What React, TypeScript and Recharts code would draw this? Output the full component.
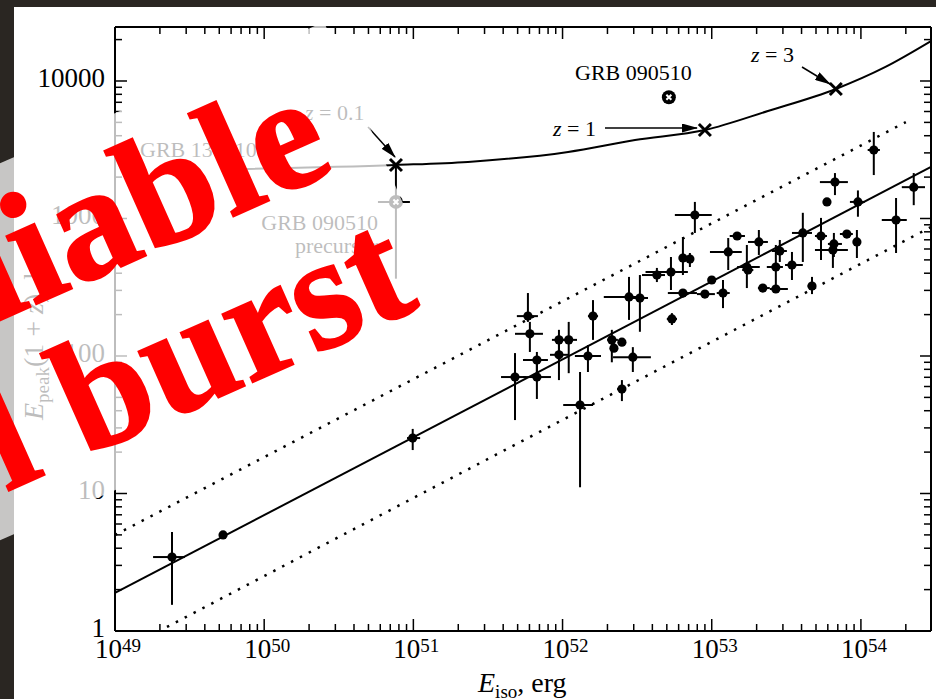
import React from 'react'
import { ComposedChart, XAxis, YAxis, Scatter, Line, ErrorBar } from 'recharts'

const SERIF = 'Liberation Serif, Tinos, Times New Roman, DejaVu Serif, serif'

// GRB sample: E_iso (erg) and E_peak(1+z) (keV), with lower / upper bounds of the error bars
const grbE = [2.41e49, 5.3e49, 9.9e50, 5.86e51, 6.04e51, 6.73e51, 4.8e51, 6.73e51, 9.46e51, 9.46e51, 1.1e52, 1.6e52, 1.48e52, 1.31e52, 2.14e52, 2.21e52, 2.5e52, 2.96e52, 2.5e52, 2.79e52, 3.3e52, 4.29e52, 5.33e52, 6.41e52, 5.41e52, 6.41e52, 7.14e52, 7.71e52, 9.0e52, 1.0e53, 1.19e53, 1.29e53, 1.48e53, 1.72e53, 1.75e53, 2.07e53, 2.2e53, 2.69e53, 2.69e53, 2.86e53, 3.45e53, 4.08e53, 4.7e53, 5.4e53, 5.92e53, 6.59e53, 6.49e53, 6.7e53, 8.05e53, 9.4e53, 9.55e53, 1.22e54, 1.72e54, 2.26e54]
const grbElo = [1.8e49, 5.3e49, 9.06e50, 4.94e51, 4.8e51, 5.43e51, 3.87e51, 5.43e51, 8.49e51, 8.24e51, 9.91e51, 1.48e52, 1.21e52, 1.01e52, 1.99e52, 2.1e52, 2.4e52, 2.18e52, 2.32e52, 1.89e52, 2.83e52, 3.41e52, 3.6e52, 5.08e52, 5.0e52, 6.2e52, 6.8e52, 5.66e52, 7.96e52, 9.6e52, 1.08e53, 9.73e52, 1.32e53, 1.48e53, 1.6e53, 1.75e53, 2.04e53, 2.45e53, 2.34e53, 2.53e53, 3.1e53, 3.45e53, 4.4e53, 4.92e53, 5.6e53, 6.01e53, 4.92e53, 5.31e53, 7.23e53, 9.0e53, 8.44e53, 1.11e54, 1.38e54, 1.88e54]
const grbEhi = [2.94e49, 5.3e49, 1.11e51, 6.84e51, 7.39e51, 7.98e51, 5.69e51, 8.36e51, 1.05e52, 1.09e52, 1.25e52, 1.73e52, 1.81e52, 1.6e52, 2.35e52, 2.3e52, 2.6e52, 3.91e52, 2.66e52, 3.16e52, 3.74e52, 4.86e52, 6.92e52, 7.96e52, 5.85e52, 6.6e52, 7.5e52, 1.0e53, 1.05e53, 1.04e53, 1.32e53, 1.59e53, 1.67e53, 2.1e53, 1.9e53, 2.38e53, 2.45e53, 3.24e53, 3.0e53, 3.19e53, 4.08e53, 4.7e53, 5.0e53, 5.92e53, 6.2e53, 7.46e53, 8.18e53, 8.18e53, 8.83e53, 9.8e53, 1.06e54, 1.34e54, 2.03e54, 2.69e54]
const grbEp = [3.45, 5.0, 25.3, 195, 145, 93.5, 70.3, 70.3, 131, 102, 131, 195, 100, 44, 131, 114, 126, 98, 57.5, 269, 264, 388, 408, 287, 186, 516, 507, 1060, 282, 357, 287, 571, 746, 444, 422, 675, 312, 307, 444, 580, 459, 785, 323, 746, 1320, 653, 590, 1840, 771, 675, 1320, 3150, 975, 1690]
const grbEpLo = [1.55, 5.0, 20.7, 177, 107, 75, 34.2, 48.7, 107, 66.8, 75, 131, 76.5, 11.1, 90, 108, 120, 76.5, 47, 183, 150, 345, 302, 275, 168, 388, 444, 785, 270, 345, 223, 422, 720, 312, 400, 543, 300, 295, 302, 483, 357, 483, 282, 499, 1260, 525, 437, 1480, 740, 516, 1030, 2070, 561, 1250]
const grbEpHi = [5.25, 5.0, 29.5, 287, 177, 107, 105, 93.5, 155, 129, 177, 255, 120, 76.5, 155, 120, 133, 116, 66.8, 376, 388, 437, 525, 300, 205, 733, 561, 1320, 295, 370, 357, 721, 770, 642, 445, 825, 325, 320, 642, 698, 571, 1100, 376, 1010, 1380, 785, 610, 2140, 800, 825, 1600, 4260, 1410, 2140]

// best fit and its scatter band
const fitE = [1e49, 2.95e54]
const fitEp = [1.89, 2370]
const upperE = [1e49, 2.0e54]
const upperEp = [4.99, 5030]
const lowerE = [2.23e49, 2.95e54]
const lowerEp = [1.07, 867]

// GRB 090510 track as a function of assumed redshift
const trackE = [7.67e49, 7.64e50, 2.32e51, 1.09e52, 3.06e52, 9.0e52, 2.38e53, 6.79e53, 1.45e54, 2.95e54]
const trackEp = [2290, 2450, 2580, 3050, 3720, 4400, 6050, 8750, 12600, 19500]
const zMarkE = [7.64e50, 9.0e52, 6.79e53]
const zMarkEp = [2450, 4400, 8750]

const burstE = [5.16e52]
const burstEp = [7620]
const precE = [7.64e50]
const precElo = [5.79e50]
const precEhi = [9.48e50]
const precEp = [1320]
const precEpLo = [365]
const precEpHi = [2450]

const X_DOMAIN = [1e49, 2.95e54]
const Y_DOMAIN = [1, 24700]
const xTicks = [49, 50, 51, 52, 53, 54].flatMap((d) => [1, 2, 3, 4, 5, 6, 7, 8, 9].map((m) => m * 10 ** d)).filter((v) => v <= X_DOMAIN[1])
const yTicks = [0, 1, 2, 3, 4].flatMap((d) => [1, 2, 3, 4, 5, 6, 7, 8, 9].map((m) => m * 10 ** d)).filter((v) => v <= Y_DOMAIN[1])

const toRows = (e: number[], elo: number[], ehi: number[], ep: number[], eplo: number[], ephi: number[]) =>
  e.map((v, i) => ({
    e: v,
    ep: ep[i],
    ex: [v - elo[i], ehi[i] - v],
    ey: [ep[i] - eplo[i], ephi[i] - ep[i]],
  }))

const grbRows = toRows(grbE, grbElo, grbEhi, grbEp, grbEpLo, grbEpHi)
const precRows = toRows(precE, precElo, precEhi, precEp, precEpLo, precEpHi)
const pairs = (e: number[], ep: number[]) => e.map((v, i) => ({ e: v, ep: ep[i] }))

const isMajor = (v: number) => {
  const l = Math.log10(v)
  return Math.abs(l - Math.round(l)) < 1e-9
}

const serifStyle = { fontFamily: SERIF }

function BottomTick({ x, y, payload }: any) {
  const major = isMajor(payload.value)
  return (
    <g>
      <line x1={x} x2={x} y1={y} y2={y - (major ? 12 : 7)} stroke="#000" strokeWidth={1.5} />
      {major && (
        <text x={x + 3} y={y + 27} textAnchor="middle" style={serifStyle} fontSize={27} fill="#000">
          10<tspan dy={-6} fontSize={19}>{Math.round(Math.log10(payload.value))}</tspan>
        </text>
      )}
    </g>
  )
}

function TopTick({ x, y, payload }: any) {
  const major = isMajor(payload.value)
  return <line x1={x} x2={x} y1={y} y2={y + (major ? 12 : 7)} stroke="#000" strokeWidth={1.5} />
}

function LeftTick({ x, y, payload }: any) {
  const major = isMajor(payload.value)
  return (
    <g>
      <line x1={x} x2={x + (major ? 12 : 7)} y1={y} y2={y} stroke="#000" strokeWidth={1.5} />
      {major && (
        <text x={x - 10} y={y + 6} textAnchor="end" style={serifStyle} fontSize={27} fill="#000">
          {Math.round(payload.value)}
        </text>
      )}
    </g>
  )
}

function RightTick({ x, y, payload }: any) {
  const major = isMajor(payload.value)
  return <line x1={x} x2={x - (major ? 11 : 7)} y1={y} y2={y} stroke="#000" strokeWidth={1.5} />
}

const Dot = ({ cx, cy }: any) => <circle cx={cx} cy={cy} r={4.6} fill="#000" />

const Cross = ({ cx, cy }: any) => (
  <g stroke="#000" strokeWidth={3}>
    <line x1={cx - 6} y1={cy - 6} x2={cx + 6} y2={cy + 6} />
    <line x1={cx - 6} y1={cy + 6} x2={cx + 6} y2={cy - 6} />
  </g>
)

const Ringed = ({ cx, cy }: any) => (
  <g>
    <circle cx={cx} cy={cy} r={7} fill="#000" />
    <path
      d={`M${cx - 2.5},${cy - 2.5}L${cx + 2.5},${cy + 2.5}M${cx - 2.5},${cy + 2.5}L${cx + 2.5},${cy - 2.5}`}
      stroke="#fff"
      strokeWidth={2}
    />
  </g>
)

const axisLine = { stroke: '#000', strokeWidth: 2 }

export default function App() {
  return (
    <div style={{ position: 'absolute', left: 0, top: 0, width: 936, height: 699, background: '#fff', overflow: 'hidden', fontFamily: SERIF }}>
      <div style={{ position: 'absolute', left: 0, top: 0, width: 936, height: 7, background: '#2a2622' }} />
      <div style={{ position: 'absolute', left: 0, top: 0, width: 14, height: 699, background: '#2a2622' }} />
      <div style={{ position: 'absolute', left: 0, top: 0 }}>
        <ComposedChart width={936} height={699} margin={{ top: 0, right: 0, bottom: 0, left: 0 }}>
          <XAxis dataKey="e" type="number" scale="log" domain={X_DOMAIN} allowDataOverflow ticks={xTicks} interval={0}
            tick={(p: any) => <BottomTick {...p} />} tickLine={false} tickSize={0} tickMargin={0} height={68} axisLine={axisLine} />
          <XAxis xAxisId="t" orientation="top" dataKey="e" type="number" scale="log" domain={X_DOMAIN} allowDataOverflow ticks={xTicks} interval={0}
            tick={(p: any) => <TopTick {...p} />} tickLine={false} tickSize={0} tickMargin={0} height={27} axisLine={axisLine} />
          <YAxis dataKey="ep" type="number" scale="log" domain={Y_DOMAIN} allowDataOverflow ticks={yTicks} interval={0}
            tick={(p: any) => <LeftTick {...p} />} tickLine={false} tickSize={0} tickMargin={0} width={115} axisLine={axisLine} />
          <YAxis yAxisId="r" orientation="right" dataKey="ep" type="number" scale="log" domain={Y_DOMAIN} allowDataOverflow ticks={yTicks} interval={0}
            tick={(p: any) => <RightTick {...p} />} tickLine={false} tickSize={0} tickMargin={0} width={5} axisLine={axisLine} />

          <Line data={pairs(fitE, fitEp)} dataKey="ep" type="linear" stroke="#000" strokeWidth={2} dot={false} activeDot={false} isAnimationActive={false} />
          <Line data={pairs(upperE, upperEp)} dataKey="ep" type="linear" stroke="#000" strokeWidth={2.5} strokeDasharray="2.5 7.5" dot={false} activeDot={false} isAnimationActive={false} />
          <Line data={pairs(lowerE, lowerEp)} dataKey="ep" type="linear" stroke="#000" strokeWidth={2.5} strokeDasharray="2.5 7.5" dot={false} activeDot={false} isAnimationActive={false} />
          <Line data={pairs(trackE, trackEp)} dataKey="ep" type="monotone" stroke="#000" strokeWidth={2} dot={false} activeDot={false} isAnimationActive={false} />

          <Scatter data={grbRows} dataKey="ep" shape={Dot} isAnimationActive={false}>
            <ErrorBar dataKey="ex" direction="x" width={0} stroke="#000" strokeWidth={2} isAnimationActive={false} />
            <ErrorBar dataKey="ey" direction="y" width={0} stroke="#000" strokeWidth={2} isAnimationActive={false} />
          </Scatter>
          <Scatter data={precRows} dataKey="ep" shape={Ringed} isAnimationActive={false}>
            <ErrorBar dataKey="ex" direction="x" width={0} stroke="#000" strokeWidth={2} isAnimationActive={false} />
            <ErrorBar dataKey="ey" direction="y" width={0} stroke="#000" strokeWidth={2} isAnimationActive={false} />
          </Scatter>
          <Scatter data={pairs(zMarkE, zMarkEp)} dataKey="ep" shape={Cross} isAnimationActive={false} />
          <Scatter data={pairs(burstE, burstEp)} dataKey="ep" shape={Ringed} isAnimationActive={false} />
        </ComposedChart>
      </div>

      <svg width={936} height={699} style={{ position: 'absolute', left: 0, top: 0, pointerEvents: 'none', fontFamily: SERIF }}>
        <defs>
          <marker id="head" markerWidth={16} markerHeight={9} refX={15} refY={4.5} orient="auto" markerUnits="userSpaceOnUse">
            <path d="M0,0 L16,4.5 L0,9 z" fill="#000" />
          </marker>
        </defs>
        <g style={serifStyle} fontSize={22} fill="#000">
          <text x={575} y={80}>GRB 090510</text>
          <text x={751} y={62}><tspan fontStyle="italic">z</tspan> = 3</text>
          <text x={553} y={136}><tspan fontStyle="italic">z</tspan> = 1</text>
          <text x={305} y={120}><tspan fontStyle="italic">z</tspan> = 0.1</text>
          <text x={140} y={157}>GRB 130310</text>
          <text x={378} y={230} textAnchor="end">GRB 090510</text>
          <text x={378} y={253} textAnchor="end">precursor</text>
        </g>
        <g stroke="#000" strokeWidth={1.5}>
          <line x1={605} y1={128} x2={697} y2={128} markerEnd="url(#head)" />
          <line x1={802} y1={67} x2={830} y2={84} markerEnd="url(#head)" />
          <line x1={368} y1={127} x2={395} y2={157} markerEnd="url(#head)" />
        </g>
        <text x={478} y={692} style={serifStyle} fontSize={28} fill="#000">
          <tspan fontStyle="italic">E</tspan>
          <tspan fontSize={19} dy={6}>iso</tspan>
          <tspan dy={-6}>, erg</tspan>
        </text>
        <text transform="translate(43,420) rotate(-90)" style={serifStyle} fontSize={28} fill="#000">
          <tspan fontStyle="italic">E</tspan>
          <tspan fontSize={19} dy={6}>peak</tspan>
          <tspan dy={-6}>(1 + </tspan>
          <tspan fontStyle="italic">z</tspan>
          <tspan>), keV</tspan>
        </text>

        <polygon points="-300,294 324,22 462,339 -300,671" fill="#fff" fillOpacity={0.74} />

        <g style={serifStyle} fontWeight="bold" fontSize={162} fill="#ff0000" stroke="#ff0000" strokeWidth={2}>
          <text transform="translate(-8,324) rotate(-24)">liable</text>
          <text transform="translate(6,492) rotate(-24)">l burst</text>
        </g>
      </svg>
    </div>
  )
}
